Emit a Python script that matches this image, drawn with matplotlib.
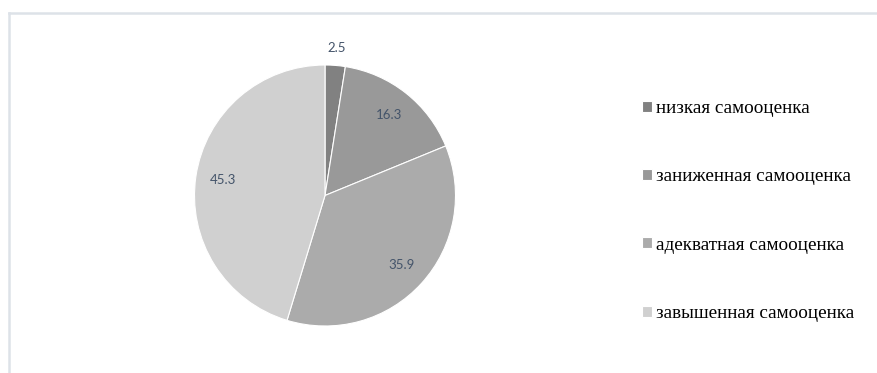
import matplotlib
matplotlib.use("Agg")
import matplotlib.pyplot as plt
import numpy as np
from matplotlib.lines import Line2D

categories = ["низкая самооценка", "заниженная самооценка",
              "адекватная самооценка", "завышенная самооценка"]
values = [2.5, 16.3, 35.9, 45.3]
value_labels = ["2.5", "16.3", "35.9", "45.3"]
colors = ["#818181", "#999999", "#ababab", "#d0d0d0"]

plt.rcParams["font.serif"] = ["Liberation Serif", "DejaVu Serif"]

W, H = 878, 373
fig = plt.figure(figsize=(W / 100, H / 100), dpi=100)
fig.patch.set_facecolor("white")

# pie area: centre (325, 195) px, radius 130 px
cx, cy, r = 325, 195.5, 130.5
ax = fig.add_axes([(cx - r) / W, (H - cy - r) / H, 2 * r / W, 2 * r / H])
wedges, _ = ax.pie(values, colors=colors, startangle=90, counterclock=False,
                   radius=1, wedgeprops=dict(edgecolor="white", linewidth=0.8))
ax.set_xlim(-1, 1)
ax.set_ylim(-1, 1)
ax.set_aspect("equal")
ax.axis("off")

for w, lab, v in zip(wedges, value_labels, values):
    ang = np.deg2rad((w.theta1 + w.theta2) / 2)
    d = 1.13 if v < 5 else 0.79
    ax.text(d * np.cos(ang), d * np.sin(ang), lab, ha="center", va="center",
            fontsize=9.5, color="#44546a", family="Lato", clip_on=False)

leg = fig.legend(wedges, categories, loc="upper left",
                 bbox_to_anchor=(642 / W, 1 - 100 / H), frameon=False,
                 prop=dict(family="serif", size=13.8),
                 handlelength=0.5, handleheight=0.5, handletextpad=0.25,
                 labelspacing=2.68, borderpad=0, borderaxespad=0)

# light chart-area border (top and left)
bc = "#dde2e8"
fig.add_artist(Line2D([9 / W, 1], [1 - 12.5 / H, 1 - 12.5 / H], color=bc, lw=1.8,
                      transform=fig.transFigure))
fig.add_artist(Line2D([9 / W, 9 / W], [0, 1 - 12.5 / H], color=bc, lw=1.8,
                      transform=fig.transFigure))

fig.savefig("out.png", dpi=100)
